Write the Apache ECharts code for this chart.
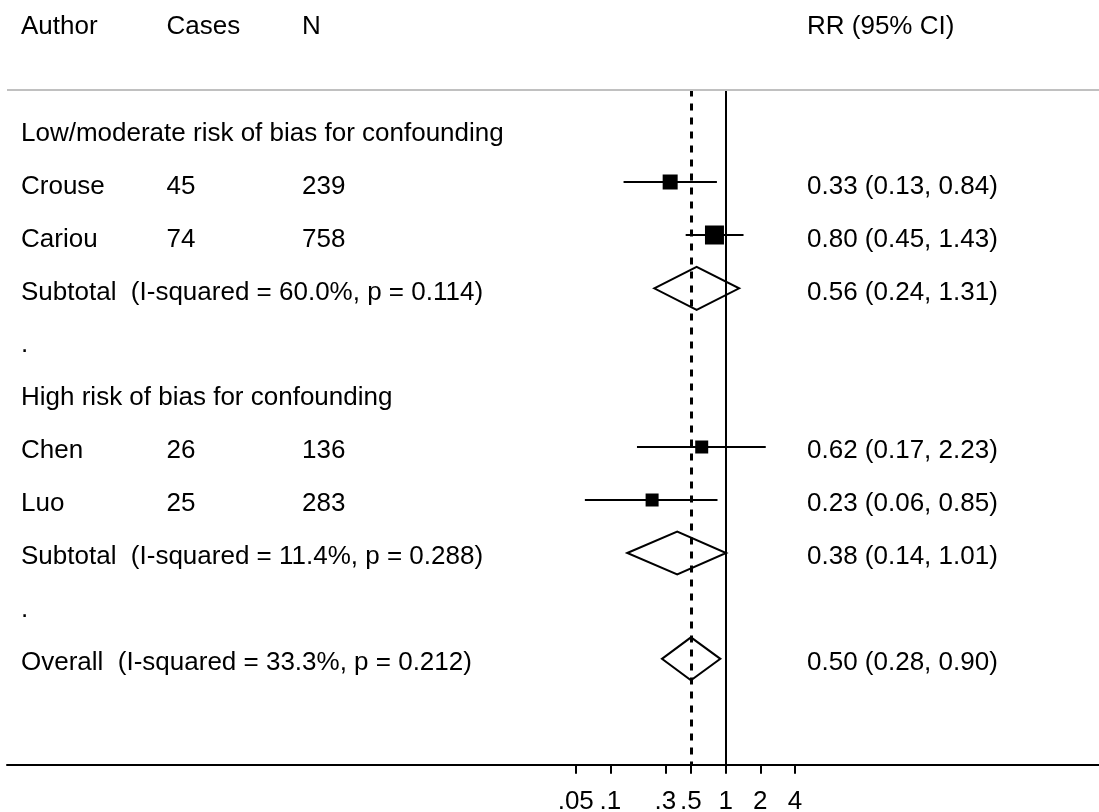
<!DOCTYPE html>
<html>
<head>
<meta charset="utf-8">
<script src="https://cdn.jsdelivr.net/npm/echarts@6/dist/echarts.min.js"></script>
<style>
  html, body { margin: 0; padding: 0; background: #ffffff; }
  #chart { width: 1099px; height: 812px; }
</style>
</head>
<body>
<div id="chart"></div>
<script>
// ---- study-level data ----
const studyNames = ['Crouse', 'Cariou', 'Chen', 'Luo'];
const studyCases = [45, 74, 26, 25];
const studyN = [239, 758, 136, 283];
const studyRR = [0.33, 0.80, 0.62, 0.23];
const studyLo = [0.13, 0.45, 0.17, 0.06];
const studyHi = [0.84, 1.43, 2.23, 0.85];
const studyRows = [1, 2, 6, 7];

// ---- pooled estimates ----
const pooledLabels = [
  'Subtotal  (I-squared = 60.0%, p = 0.114)',
  'Subtotal  (I-squared = 11.4%, p = 0.288)',
  'Overall  (I-squared = 33.3%, p = 0.212)'
];
const pooledRR = [0.56, 0.38, 0.50];
const pooledLo = [0.24, 0.14, 0.28];
const pooledHi = [1.31, 1.01, 0.90];
const pooledRows = [3, 8, 10];

// ---- group headings and spacer rows ----
const groupLabels = ['Low/moderate risk of bias for confounding', '.', 'High risk of bias for confounding', '.'];
const groupRows = [0, 4, 5, 9];

// ---- column headers and axis ticks ----
const headers = ['Author', 'Cases', 'N', 'RR (95% CI)'];
const tickValues = [0.05, 0.1, 0.3, 0.5, 1, 2, 4];
const tickLabels = ['.05', '.1', '.3', '.5', '1', '2', '4'];

// ---- styling ----
const FONT = '"Liberation Sans", Arial, Helvetica, sans-serif';
const FONT_SIZE = 26;
const colX = [21, 166.5, 302, 807];
const textDy = 4;
const boxSize = [15, 19, 13, 13];
const diamondHalf = 21.5;

const fmt = v => v.toFixed(2);
const ciText = (e, l, h) => fmt(e) + ' (' + fmt(l) + ', ' + fmt(h) + ')';

// table rows: [row, author, cases, n, rr text]
const tableRows = [];
studyNames.forEach((name, i) => {
  tableRows.push([studyRows[i], name, String(studyCases[i]), String(studyN[i]),
    ciText(studyRR[i], studyLo[i], studyHi[i])]);
});
pooledLabels.forEach((lab, i) => {
  tableRows.push([pooledRows[i], lab, '', '', ciText(pooledRR[i], pooledLo[i], pooledHi[i])]);
});
groupLabels.forEach((lab, i) => {
  tableRows.push([groupRows[i], lab, '', '', '']);
});

const studyData = studyNames.map((_, i) => [studyRR[i], studyLo[i], studyHi[i], studyRows[i], i]);
const pooledData = pooledRR.map((_, i) => [pooledRR[i], pooledLo[i], pooledHi[i], pooledRows[i]]);

const chart = echarts.init(document.getElementById('chart'), null, { renderer: 'canvas' });

const option = {
  animation: false,
  backgroundColor: '#ffffff',
  grid: { left: 7, right: 0, top: 89.5, bottom: 47.3, containLabel: false, outerBoundsMode: 'none' },
  xAxis: {
    type: 'log',
    logBase: 10,
    min: Math.pow(10, -6.238),
    max: Math.pow(10, 3.241),
    axisLine: { show: true, onZero: false, lineStyle: { color: '#000000', width: 2 } },
    axisTick: { show: true, inside: false, customValues: tickValues, length: 9, lineStyle: { color: '#000000', width: 2 } },
    axisLabel: {
      show: true,
      customValues: tickValues,
      margin: 24,
      fontFamily: FONT,
      fontSize: FONT_SIZE,
      color: '#000000',
      formatter: function (v) {
        let best = 0;
        tickValues.forEach((t, i) => {
          if (Math.abs(Math.log10(t) - Math.log10(v)) < Math.abs(Math.log10(tickValues[best]) - Math.log10(v))) best = i;
        });
        return tickLabels[best];
      }
    },
    splitLine: { show: false }
  },
  yAxis: {
    type: 'value',
    inverse: true,
    min: -0.757,
    max: 12,
    show: false,
    splitLine: { show: false }
  },
  graphic: [
    {
      type: 'line',
      shape: { x1: 7, y1: 90, x2: 1099, y2: 90 },
      style: { stroke: '#c0c0c0', lineWidth: 2 },
      z: 10
    }
  ].concat(headers.map((h, i) => ({
    type: 'text',
    x: colX[i], y: 27,
    style: {
      text: h, font: FONT_SIZE + 'px ' + FONT, fill: '#000000',
      align: 'left', verticalAlign: 'middle'
    }
  }))),
  series: [
    {
      // reference lines: null effect and overall estimate
      type: 'custom',
      data: [],
      renderItem: function () { return null; },
      markLine: {
        silent: true,
        symbol: 'none',
        label: { show: false },
        emphasis: { disabled: true },
        data: [
          { xAxis: 1, lineStyle: { color: '#000000', width: 2, type: 'solid' } },
          { xAxis: pooledRR[2], lineStyle: { color: '#000000', width: 3, type: [7, 7] } }
        ]
      },
      z: 1
    },
    {
      // individual studies: CI whisker plus weighted box
      type: 'custom',
      data: studyData,
      z: 3,
      renderItem: function (params, api) {
        const row = api.value(3);
        const c = api.coord([api.value(0), row]);
        const l = api.coord([api.value(1), row]);
        const h = api.coord([api.value(2), row]);
        const s = boxSize[api.value(4)];
        const y = Math.round(c[1]);
        return {
          type: 'group',
          children: [
            { type: 'line', shape: { x1: l[0], y1: y, x2: h[0], y2: y },
              style: { stroke: '#000000', lineWidth: 2 } },
            { type: 'rect', shape: { x: c[0] - s / 2, y: y - s / 2, width: s, height: s },
              style: { fill: '#000000' } }
          ]
        };
      }
    },
    {
      // pooled estimates as open diamonds
      type: 'custom',
      data: pooledData,
      z: 3,
      renderItem: function (params, api) {
        const row = api.value(3);
        const c = api.coord([api.value(0), row]);
        const l = api.coord([api.value(1), row]);
        const h = api.coord([api.value(2), row]);
        return {
          type: 'polygon',
          shape: { points: [[l[0], c[1]], [c[0], c[1] - diamondHalf], [h[0], c[1]], [c[0], c[1] + diamondHalf]] },
          style: { fill: 'none', stroke: '#000000', lineWidth: 2, lineJoin: 'miter' }
        };
      }
    },
    {
      // text table
      type: 'custom',
      data: tableRows.map(r => [1, r[0]]),
      z: 4,
      clip: false,
      renderItem: function (params, api) {
        const r = tableRows[params.dataIndex];
        const y = api.coord([1, api.value(1)])[1] + textDy;
        const children = [];
        for (let k = 1; k <= 4; k++) {
          if (r[k]) {
            children.push({
              type: 'text',
              x: colX[k - 1], y: y,
              style: { text: r[k], font: FONT_SIZE + 'px ' + FONT, fill: '#000000', align: 'left', verticalAlign: 'middle' }
            });
          }
        }
        return { type: 'group', children: children };
      }
    }
  ]
};

chart.setOption(option);
</script>
</body>
</html>
